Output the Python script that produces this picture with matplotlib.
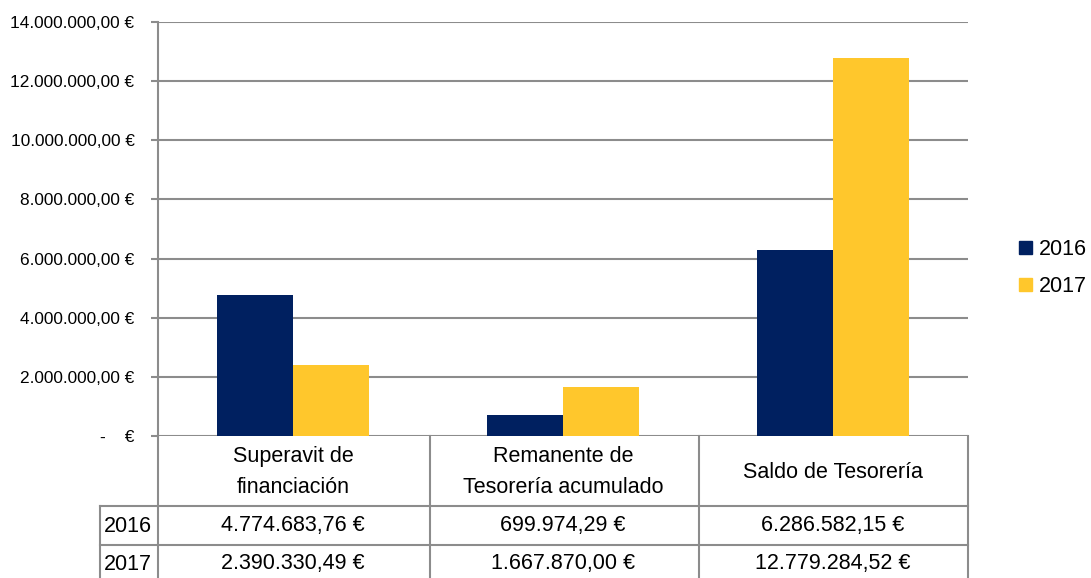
import matplotlib
matplotlib.use("Agg")
import matplotlib.pyplot as plt
from matplotlib.lines import Line2D
from matplotlib.patches import Patch
from matplotlib.ticker import FuncFormatter

# Datos
categories = ["Superavit de\nfinanciación", "Remanente de\nTesorería acumulado", "Saldo de Tesorería"]
years = ["2016", "2017"]
values_2016 = [4774683.76, 699974.29, 6286582.15]
values_2017 = [2390330.49, 1667870.00, 12779284.52]
y_ticks = [0, 2000000, 4000000, 6000000, 8000000, 10000000, 12000000, 14000000]

navy = "#002060"
gold = "#FFC72C"
gc = "#8c8c8c"

plt.rcParams["font.family"] = ["Liberation Sans", "DejaVu Sans"]


def euro(v):
    s = f"{v:,.2f}".replace(",", "X").replace(".", ",").replace("X", ".")
    return s + " €"


W, H = 1091, 578
fig = plt.figure(figsize=(W / 100, H / 100), dpi=100)
ax = fig.add_axes([158 / W, 1 - 436 / H, (968 - 158) / W, (436 - 22) / H])

bw = 0.283
xs = list(range(len(categories)))
ax.bar([i - bw / 2 for i in xs], values_2016, bw, color=navy, zorder=3)
ax.bar([i + bw / 2 for i in xs], values_2017, bw, color=gold, zorder=3)

ax.set_xlim(-0.5, len(categories) - 0.5)
ax.set_ylim(0, 14000000)
ax.set_yticks(y_ticks)
ax.yaxis.set_major_formatter(FuncFormatter(lambda v, p: euro(v) if v else "-    €"))
ax.grid(axis="y", color=gc, lw=1.5, zorder=0)
ax.set_xticks([])
for s in ["top", "right", "bottom"]:
    ax.spines[s].set_visible(False)
ax.spines["left"].set_color(gc)
ax.spines["left"].set_linewidth(1.5)
ax.tick_params(axis="y", length=5, width=1.5, color=gc, pad=12, labelsize=12.4)


# Tabla de datos debajo del gráfico (coordenadas en píxeles -> ejes)
def axx(px):
    return (px - 158) / 810


def axy(py):
    return (436 - py) / 414


def hline(x0, x1, py):
    ax.add_line(Line2D([axx(x0), axx(x1)], [axy(py), axy(py)], transform=ax.transAxes,
                       color=gc, lw=1.5, clip_on=False))


def vline(px, y0, y1):
    ax.add_line(Line2D([axx(px), axx(px)], [axy(y0), axy(y1)], transform=ax.transAxes,
                       color=gc, lw=1.5, clip_on=False))


hline(100, 968, 506)
hline(100, 968, 545)
for px in [158, 430, 699, 968]:
    vline(px, 436, 590)
vline(100, 506, 590)

tr = ax.get_xaxis_transform()
fs = 15.5
for i, cat in enumerate(categories):
    ax.text(i, axy(472), cat, transform=tr, ha="center", va="center", fontsize=fs,
            linespacing=1.6, clip_on=False)
    ax.text(i, axy(526), euro(values_2016[i]), transform=tr, ha="center", va="center",
            fontsize=fs, clip_on=False)
    ax.text(i, axy(564), euro(values_2017[i]), transform=tr, ha="center", va="center",
            fontsize=fs, clip_on=False)
ax.text(axx(128), axy(526), years[0], transform=ax.transAxes, ha="center", va="center",
        fontsize=fs, clip_on=False)
ax.text(axx(128), axy(564), years[1], transform=ax.transAxes, ha="center", va="center",
        fontsize=fs, clip_on=False)

handles = [Patch(color=navy), Patch(color=gold)]
fig.legend(handles, years, loc="center left", bbox_to_anchor=(1019 / W, 1 - 268 / H),
           frameon=False, fontsize=fs, handlelength=0.6, handleheight=0.6,
           handletextpad=0.3, labelspacing=0.75, borderaxespad=0, borderpad=0)

fig.savefig("out.png", dpi=100)
